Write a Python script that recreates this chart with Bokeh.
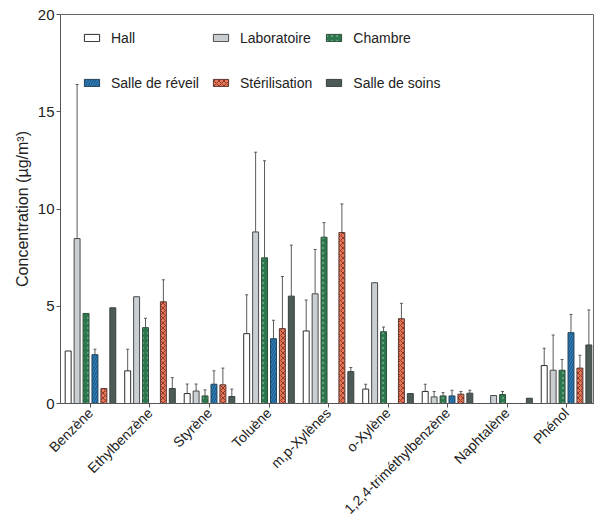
import math
from bokeh.plotting import figure
from bokeh.models import (ColumnDataSource, Range1d, FixedTicker, Legend, LegendItem)
from bokeh.transform import dodge
from bokeh.embed import file_html
from bokeh.resources import INLINE

nan = float("nan")

compounds = ["Benzène", "Ethylbenzène", "Styrène", "Toluène", "m,p-Xylènes",
             "o-Xylène", "1,2,4-triméthylbenzène", "Naphtalène", "Phénol"]

series_names = ["Hall", "Laboratoire", "Chambre",
                "Salle de réveil", "Stérilisation", "Salle de soins"]

hall = [2.70, 1.68, 0.51, 3.59, 3.73, 0.74, 0.62, nan, 1.95]
hall_sd = [nan, 1.11, 0.49, 2.00, 1.59, 0.25, 0.37, nan, 0.89]

laboratoire = [8.48, 5.49, 0.64, 8.82, 5.64, 6.21, 0.34, 0.41, 1.71]
laboratoire_sd = [7.92, nan, 0.36, 4.10, 2.28, nan, 0.28, nan, 1.81]

chambre = [4.63, 3.90, 0.39, 7.49, 8.55, 3.69, 0.39, 0.46, 1.71]
chambre_sd = [nan, 0.48, 0.31, 4.99, 0.75, 0.24, 0.17, 0.16, 0.55]

reveil = [2.51, nan, 0.99, 3.33, nan, nan, 0.39, nan, 3.64]
reveil_sd = [0.28, nan, 0.69, 0.95, nan, nan, 0.29, nan, 0.94]

sterilisation = [0.77, 5.23, 0.96, 3.85, 8.79, 4.36, 0.48, nan, 1.82]
sterilisation_sd = [nan, 1.13, 0.86, 2.68, 1.47, 0.79, 0.14, nan, 0.66]

soins = [4.92, 0.77, 0.36, 5.52, 1.64, 0.51, 0.53, 0.27, 3.01]
soins_sd = [nan, 0.56, 0.38, 2.62, 0.21, nan, 0.15, nan, 1.80]

y_ticks = [0, 5, 10, 15, 20]

values = [hall, laboratoire, chambre, reveil, sterilisation, soins]
sds = [hall_sd, laboratoire_sd, chambre_sd, reveil_sd, sterilisation_sd, soins_sd]

styles = [
    dict(fill_color="white", line_color="#2b2b2b", hatch_pattern=None, hatch_color=None),
    dict(fill_color="#c9ced3", line_color="#4a4a4a", hatch_pattern=None, hatch_color=None),
    dict(fill_color="#2b764c", line_color="#2f4f3a", hatch_pattern="dot", hatch_color="#62a07a"),
    dict(fill_color="#2c80bd", line_color="#26445a", hatch_pattern="right_diagonal_line", hatch_color="#1d4f78"),
    dict(fill_color="#e87656", line_color="#5a3a33", hatch_pattern="diagonal_cross", hatch_color="#8a3b2c"),
    dict(fill_color="#4c5b57", line_color="#39423f", hatch_pattern=None, hatch_color=None),
]
offsets = [-0.375, -0.225, -0.075, 0.075, 0.225, 0.375]
bar_w = 0.1
cap = 0.025

FONT = "Liberation Sans"

p = figure(width=594, height=529, output_backend="svg", toolbar_location=None,
           x_range=Range1d(-0.504, 8.47), y_range=Range1d(0, 20),
           min_border_left=60, min_border_right=0, min_border_top=14,
           min_border_bottom=126)
p.grid.visible = False
p.outline_line_color = "#666666"
p.background_fill_color = "white"

renderers = []
for vals, sd, st, off in zip(values, sds, styles, offsets):
    xs, tops = [], []
    exs, evs, eus = [], [], []
    for i, (v, s) in enumerate(zip(vals, sd)):
        if not math.isnan(v):
            xs.append(i)
            tops.append(v)
            if not math.isnan(s):
                exs.append(i)
                evs.append(v)
                eus.append(v + s)
    src = ColumnDataSource(dict(x=xs, top=tops))
    esrc = ColumnDataSource(dict(x=exs, val=evs, up=eus))
    kw = dict(fill_color=st["fill_color"], line_color=st["line_color"], line_width=1)
    if st["hatch_pattern"]:
        kw.update(hatch_pattern=st["hatch_pattern"], hatch_color=st["hatch_color"],
                  hatch_scale=5, hatch_weight=1)
    p.segment(x0=dodge("x", off, range=p.x_range), x1=dodge("x", off, range=p.x_range),
              y0="val", y1="up", source=esrc, line_color="#5a5a5a", line_width=1)
    p.segment(x0=dodge("x", off - cap, range=p.x_range), x1=dodge("x", off + cap, range=p.x_range),
              y0="up", y1="up", source=esrc, line_color="#5a5a5a", line_width=1)
    r = p.vbar(x=dodge("x", off, range=p.x_range), top="top", bottom=0, width=bar_w,
               source=src, **kw)
    renderers.append(r)

legend = Legend(items=[LegendItem(label=n, renderers=[r]) for n, r in zip(series_names, renderers)],
                orientation="horizontal", ncols=3, location=(22, 304),
                glyph_width=19, glyph_height=9, label_standoff=10,
                label_text_font=FONT, label_text_font_size="14px", label_text_color="#222222",
                label_height=33, spacing=12, padding=0, margin=0,
                border_line_color=None, background_fill_alpha=0)
p.add_layout(legend)

p.yaxis.ticker = FixedTicker(ticks=y_ticks)
p.yaxis.minor_tick_line_color = None
p.yaxis.major_tick_out = 4
p.yaxis.major_tick_in = 0
p.yaxis.axis_line_color = "#555555"
p.yaxis.major_tick_line_color = "#555555"
p.yaxis.major_label_text_font = FONT
p.yaxis.major_label_text_font_size = "15px"
p.yaxis.major_label_text_color = "#222222"
p.yaxis.major_label_standoff = 2
p.yaxis.axis_label = "Concentration (µg/m³)"
p.yaxis.axis_label_text_font = FONT
p.yaxis.axis_label_text_font_size = "16px"
p.yaxis.axis_label_text_font_style = "normal"
p.yaxis.axis_label_text_color = "#222222"
p.yaxis.axis_label_standoff = 4

p.xaxis.ticker = FixedTicker(ticks=list(range(len(compounds))))
p.xaxis.major_label_overrides = {i: c for i, c in enumerate(compounds)}
p.xaxis.minor_tick_line_color = None
p.xaxis.major_tick_out = 4
p.xaxis.major_tick_in = 0
p.xaxis.axis_line_color = "#555555"
p.xaxis.major_tick_line_color = "#555555"
p.xaxis.major_label_orientation = math.pi / 4
p.xaxis.major_label_text_font = FONT
p.xaxis.major_label_text_font_size = "14px"
p.xaxis.major_label_text_color = "#222222"
p.xaxis.major_label_standoff = 3

open("out.html", "w").write(file_html(p, INLINE))
